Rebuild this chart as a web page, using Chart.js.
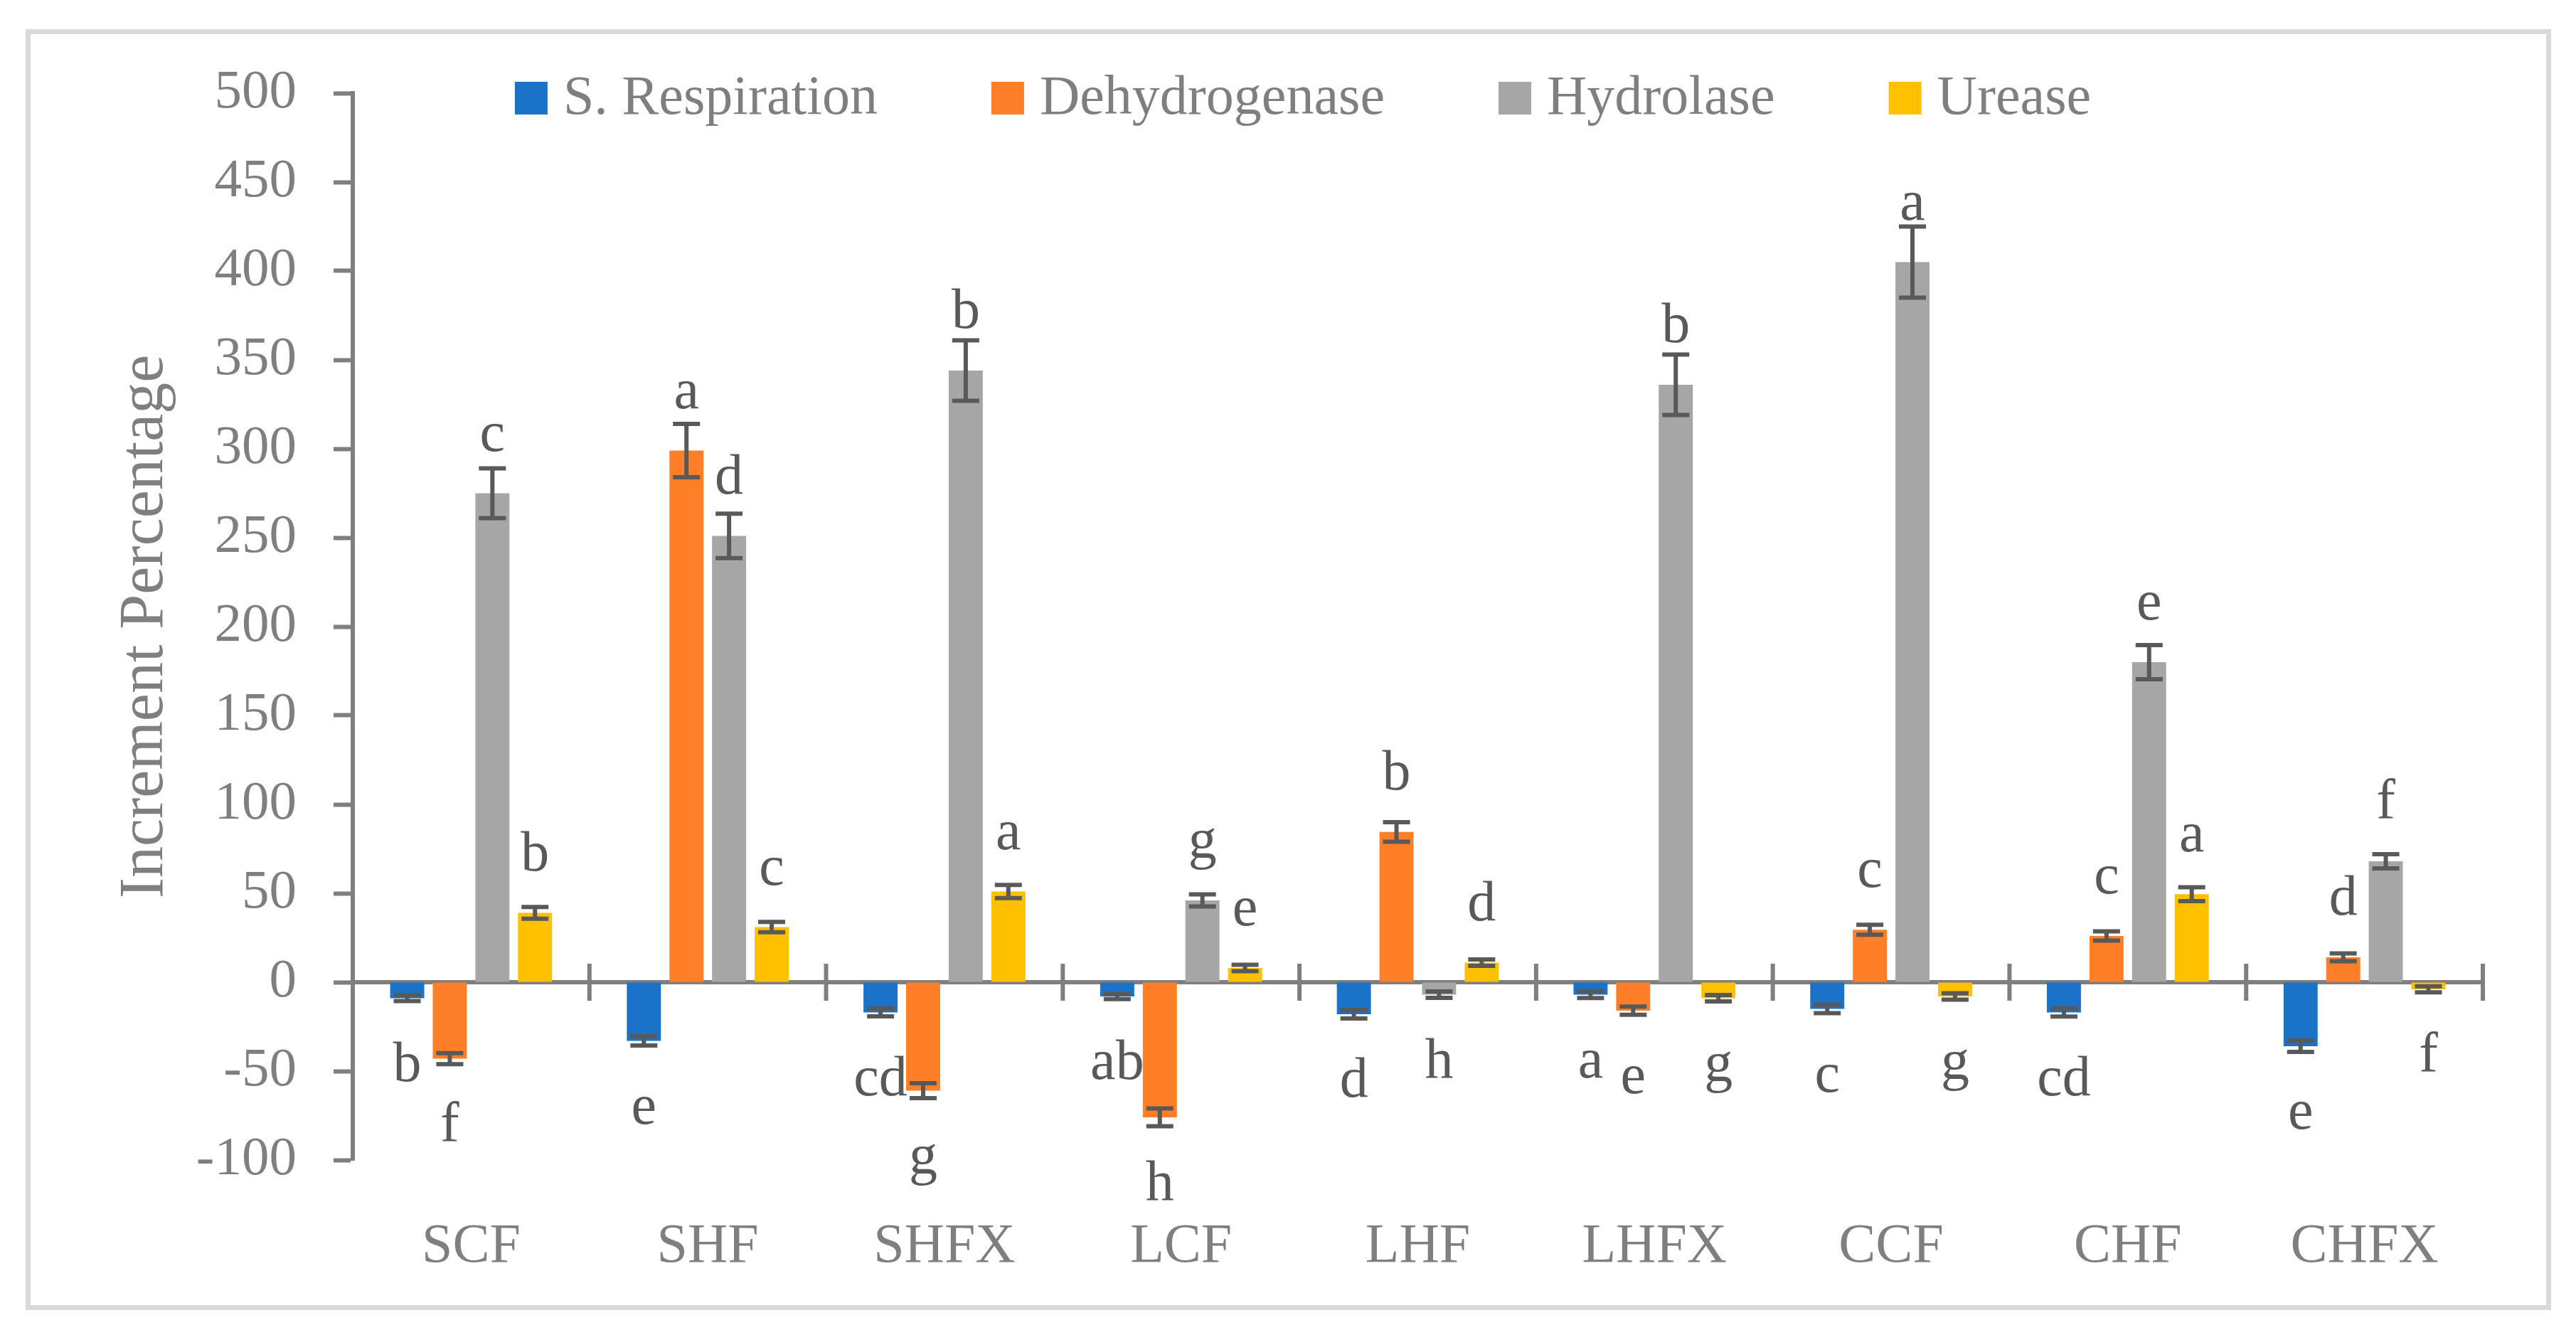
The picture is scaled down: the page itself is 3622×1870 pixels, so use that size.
<!DOCTYPE html>
<html>
<head>
<meta charset="utf-8">
<script src="https://cdn.jsdelivr.net/npm/chart.js"></script>
<style>
  *{box-sizing:border-box;margin:0;padding:0}
  body{background:#fff;width:3622px;height:1870px;overflow:hidden;position:relative}
  .frame{position:absolute;left:36px;top:41px;width:3551px;height:1801px;border:7px solid #d9d9d9}
  canvas{position:absolute;left:0;top:0}
</style>
</head>
<body>
<div class="frame"></div>
<canvas id="c" width="3622" height="1870"></canvas>
<script>
const categories = ["SCF", "SHF", "SHFX", "LCF", "LHF", "LHFX", "CCF", "CHF", "CHFX"];
const seriesNames = ["S. Respiration", "Dehydrogenase", "Hydrolase", "Urease"];
const seriesColors = ["#1a73c8", "#fe7f27", "#a6a6a6", "#ffc000"];

const respiration = [-9, -33, -17, -8, -18, -7, -15, -17, -36];
const dehydrogenase = [-43, 299, -61, -76, 84.5, -16, 29.5, 26, 14];
const hydrolase = [275, 251, 344, 46, -7, 336, 405, 180, 68];
const urease = [39, 31, 51, 8, 11, -9, -8, 49.5, -4];

const respirationErr = [1.6, 2.6, 2.2, 1.5, 2.4, 1.9, 2.4, 2.3, 3.2];
const dehydrogenaseErr = [3.1, 15, 4.2, 5, 5.5, 2.3, 2.8, 2.6, 2.2];
const hydrolaseErr = [14, 12.5, 17, 3.4, 1.8, 17, 20, 9.6, 4];
const ureaseErr = [3.3, 2.9, 3.7, 1.8, 1.8, 1.8, 1.8, 3.9, 1.7];

const respirationLetters = ["b", "e", "cd", "ab", "d", "a", "c", "cd", "e"];
const dehydrogenaseLetters = ["f", "a", "g", "h", "b", "e", "c", "c", "d"];
const hydrolaseLetters = ["c", "d", "b", "g", "h", "b", "a", "e", "f"];
const ureaseLetters = ["b", "c", "a", "e", "d", "g", "g", "a", "f"];

const yTicks = [-100, -50, 0, 50, 100, 150, 200, 250, 300, 350, 400, 450, 500];

const values = [respiration, dehydrogenase, hydrolase, urease];
const errors = [respirationErr, dehydrogenaseErr, hydrolaseErr, ureaseErr];
const letters = [respirationLetters, dehydrogenaseLetters, hydrolaseLetters, ureaseLetters];

const FONT = "'Liberation Serif', 'Times New Roman', serif";
const AXIS_GREY = "#7f7f7f";
const DARK = "#595959";

// error bars, drawn from the y scale
const errorBars = {
  id: "errorBars",
  afterDatasetsDraw(chart) {
    const ctx = chart.ctx, ys = chart.scales.y;
    ctx.save();
    ctx.strokeStyle = DARK;
    ctx.lineWidth = 6;
    chart.data.datasets.forEach((ds, i) => {
      chart.getDatasetMeta(i).data.forEach((bar, j) => {
        const v = ds.data[j], e = errors[i][j];
        const hi = ys.getPixelForValue(v + e), lo = ys.getPixelForValue(v - e);
        ctx.beginPath();
        ctx.moveTo(bar.x, hi); ctx.lineTo(bar.x, lo);
        ctx.moveTo(bar.x - 19, hi); ctx.lineTo(bar.x + 19, hi);
        ctx.moveTo(bar.x - 19, lo); ctx.lineTo(bar.x + 19, lo);
        ctx.stroke();
      });
    });
    ctx.restore();
  }
};

// significance letters above / below each bar
const letterLabels = {
  id: "letterLabels",
  afterDatasetsDraw(chart) {
    const ctx = chart.ctx;
    ctx.save();
    ctx.font = "80px " + FONT;
    ctx.fillStyle = DARK;
    ctx.textAlign = "center";
    ctx.textBaseline = "alphabetic";
    chart.data.datasets.forEach((ds, i) => {
      chart.getDatasetMeta(i).data.forEach((bar, j) => {
        const y = ds.data[j] >= 0 ? bar.y - 60 : bar.y + 116;
        ctx.fillText(letters[i][j], bar.x, y);
      });
    });
    ctx.restore();
  }
};

// category tick marks crossing the zero line
const crossTicks = {
  id: "crossTicks",
  afterDraw(chart) {
    const ctx = chart.ctx, xs = chart.scales.x, ys = chart.scales.y;
    const y0 = ys.getPixelForValue(0);
    const w = xs.width / categories.length;
    ctx.save();
    ctx.strokeStyle = AXIS_GREY;
    ctx.lineWidth = 6;
    ctx.beginPath();
    for (let i = 0; i <= categories.length; i++) {
      const x = i < categories.length ? xs.getPixelForValue(i) - w / 2 : xs.getPixelForValue(i - 1) + w / 2;
      ctx.moveTo(x, y0 - 26); ctx.lineTo(x, y0 + 26);
    }
    ctx.stroke();
    ctx.restore();
  }
};

// legend across the top of the plot, items flowed left to right
const topLegend = {
  id: "topLegend",
  afterDraw(chart) {
    const ctx = chart.ctx;
    const box = 46, gapText = 22, gapItem = 160, centre = 1832, baseline = 160;
    ctx.save();
    ctx.font = "78px " + FONT;
    ctx.textBaseline = "alphabetic";
    ctx.textAlign = "left";
    const ds = chart.data.datasets;
    const widths = ds.map(d => ctx.measureText(d.label).width);
    const total = widths.reduce((a, w) => a + box + gapText + w, 0) + gapItem * (ds.length - 1);
    let x = centre - total / 2;
    ds.forEach((d, i) => {
      ctx.fillStyle = d.backgroundColor;
      ctx.fillRect(x, 115, box, box);
      ctx.fillStyle = AXIS_GREY;
      ctx.fillText(d.label, x + box + gapText, baseline);
      x += box + gapText + widths[i] + gapItem;
    });
    ctx.restore();
  }
};

new Chart(document.getElementById("c"), {
  type: "bar",
  data: {
    labels: categories,
    datasets: seriesNames.map((name, i) => ({
      label: name,
      data: values[i],
      backgroundColor: seriesColors[i],
      borderWidth: 0,
      barPercentage: 0.8,
      categoryPercentage: 0.72
    }))
  },
  options: {
    responsive: false,
    animation: false,
    devicePixelRatio: 1,
    layout: { padding: { left: 0, right: 131, top: 131, bottom: 0 } },
    plugins: { legend: { display: false }, tooltip: { enabled: false } },
    scales: {
      x: {
        type: "category",
        position: { y: 0 },
        offset: true,
        z: 1,
        grid: { display: false },
        border: { display: true, color: AXIS_GREY, width: 6 },
        ticks: { display: false }
      },
      x2: {
        type: "category",
        axis: "x",
        position: "bottom",
        labels: categories,
        offset: true,
        grid: { display: false },
        border: { display: false },
        ticks: { font: { family: FONT, size: 78 }, color: AXIS_GREY, padding: 68, maxRotation: 0 },
        afterFit(s) { s.height = 239; }
      },
      y: {
        min: -100,
        max: 500,
        afterBuildTicks(s) { s.ticks = yTicks.map(v => ({ value: v })); },
        grid: { drawOnChartArea: false, drawTicks: true, tickLength: 27, tickColor: AXIS_GREY, tickWidth: 6 },
        border: { display: true, color: AXIS_GREY, width: 6 },
        ticks: { font: { family: FONT, size: 77 }, color: AXIS_GREY, padding: 52 },
        title: {
          display: true,
          text: "Increment Percentage",
          font: { family: FONT, size: 88 },
          color: AXIS_GREY,
          padding: { top: 152, bottom: 0 }
        },
        afterFit(s) { s.width = 496; }
      }
    }
  },
  plugins: [errorBars, letterLabels, crossTicks, topLegend]
});
</script>
</body>
</html>
